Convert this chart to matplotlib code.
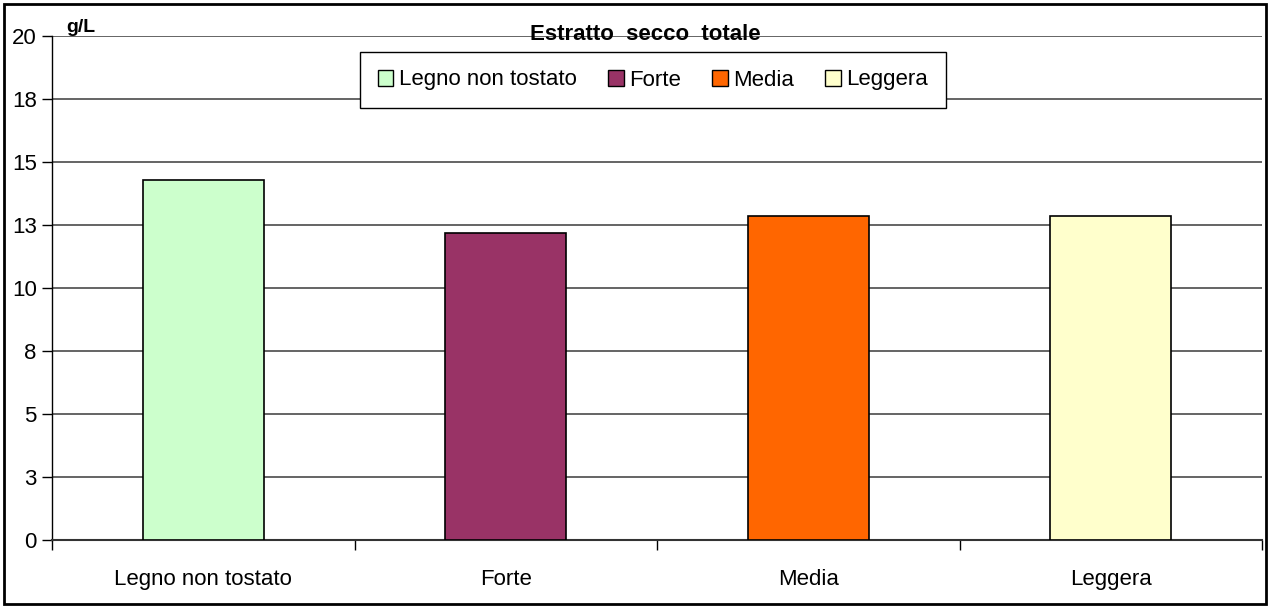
import matplotlib.pyplot as plt
from matplotlib.patches import Rectangle
import numpy as np

# dry extract, g/L, by toasting level
categories = ["Legno non tostato", "Forte", "Media", "Leggera"]
values = [14.3, 12.2, 12.85, 12.85]
colors = ["#CCFFCC", "#993366", "#FF6600", "#FFFFCC"]
y_ticks = [0, 2.5, 5, 7.5, 10, 12.5, 15, 17.5, 20]
y_tick_labels = ["0", "3", "5", "8", "10", "13", "15", "18", "20"]

plt.rcParams['font.family'] = ['Liberation Sans', 'DejaVu Sans']

fig = plt.figure(figsize=(12.7, 6.08), dpi=100)
ax = fig.add_axes([52 / 1270, 1 - 540 / 608, 1210 / 1270, 504 / 608])

x = np.arange(len(categories)) + 0.5
bars = ax.bar(x, values, width=0.4, color=colors, edgecolor="black",
              linewidth=1.2, zorder=3)

ax.set_xlim(0, len(categories))
ax.set_ylim(0, 20)

# gridlines at every y tick, drawn as plain lines
for t in y_ticks[1:]:
    ax.axhline(t, color="#3a3a3a", linewidth=1.1, zorder=1)

ax.set_yticks(y_ticks)
ax.set_yticklabels(y_tick_labels, fontsize=16)
ax.tick_params(axis="y", direction="out", length=7, width=1, pad=4, colors="black")

# boundaries as major ticks, category names on minor ticks
ax.set_xticks(np.arange(len(categories) + 1))
ax.set_xticklabels([])
ax.set_xticks(x, minor=True)
ax.set_xticklabels(categories, minor=True, fontsize=16)
ax.tick_params(axis="x", which="major", direction="out", length=7, width=1)
ax.tick_params(axis="x", which="minor", length=0, pad=21)

for side in ["top", "right"]:
    ax.spines[side].set_visible(False)
ax.spines["left"].set_color("black")
ax.spines["bottom"].set_color("#333333")
ax.spines["left"].set_linewidth(1)
ax.spines["bottom"].set_linewidth(1.5)

fig.text(645 / 1270, 1 - 34 / 608, "Estratto  secco  totale", ha="center", va="center",
         fontsize=16, fontweight="bold")
fig.text(66 / 1270, 1 - 27 / 608, "g/L", ha="left", va="center",
         fontsize=14, fontweight="bold")

handles = [Rectangle((0, 0), 1, 1, facecolor=c, edgecolor="black", linewidth=1) for c in colors]
leg = fig.legend(handles, categories, loc="center", bbox_to_anchor=(653 / 1270, 1 - 80 / 608),
                 ncol=4, fontsize=16, frameon=True, fancybox=False, shadow=False,
                 handlelength=0.7, handleheight=0.7, handletextpad=0.25,
                 columnspacing=1.4, borderpad=0.8, borderaxespad=0)
leg.get_frame().set_edgecolor("black")
leg.get_frame().set_linewidth(1)
leg.get_frame().set_alpha(1)

# border around the whole chart
fig.patches.append(Rectangle((4 / 1270, 4 / 608), 1262 / 1270, 600 / 608,
                             transform=fig.transFigure, fill=False,
                             edgecolor="black", linewidth=2))

fig.savefig("out.png", dpi=100)
